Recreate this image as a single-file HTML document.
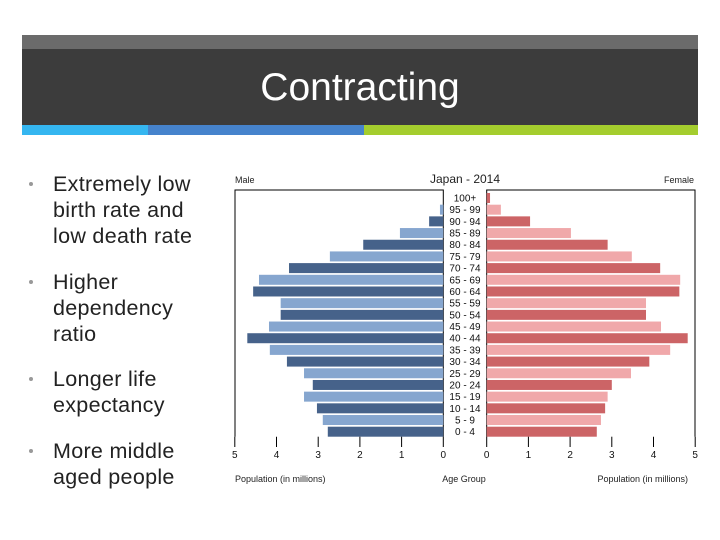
<!DOCTYPE html>
<html><head><meta charset="utf-8"><style>
body{margin:0;width:720px;height:540px;background:#fff;position:relative;overflow:hidden;font-family:"Liberation Sans",sans-serif}
.abs{position:absolute}
.b{position:absolute;left:53px;font-size:21.5px;line-height:26px;color:#222;letter-spacing:0.3px}
.dot{position:absolute;left:29px;width:4px;height:4px;border-radius:2px;background:#999}
</style></head><body>
<div class="abs" style="left:22px;top:35px;width:676px;height:14px;background:#6b6b6b"></div>
<div class="abs" style="left:22px;top:49px;width:676px;height:76px;background:#3c3c3c"></div>
<div class="abs" style="left:22px;top:64px;width:676px;text-align:center;color:#fff;font-size:39px;line-height:48px">Contracting</div>
<div class="abs" style="left:22px;top:125px;width:126px;height:10px;background:#35b6f0"></div>
<div class="abs" style="left:148px;top:125px;width:216px;height:10px;background:#4683cc"></div>
<div class="abs" style="left:364px;top:125px;width:334px;height:10px;background:#a4cd2e"></div>

<div class="dot" style="top:182px"></div>
<div class="b" style="top:171px">Extremely low<br>birth rate and<br>low death rate</div>
<div class="dot" style="top:280px"></div>
<div class="b" style="top:269px">Higher<br>dependency<br>ratio</div>
<div class="dot" style="top:377px"></div>
<div class="b" style="top:366px">Longer life<br>expectancy</div>
<div class="dot" style="top:449px"></div>
<div class="b" style="top:438px">More middle<br>aged people</div>

<svg id="chart" class="abs" style="left:0;top:0" width="720" height="540"></svg>
<script>
const ageGroups=["100+","95 - 99","90 - 94","85 - 89","80 - 84","75 - 79","70 - 74","65 - 69","60 - 64","55 - 59","50 - 54","45 - 49","40 - 44","35 - 39","30 - 34","25 - 29","20 - 24","15 - 19","10 - 14","5 - 9","0 - 4"];
const maleValues=[0,0.08,0.34,1.04,1.92,2.72,3.70,4.42,4.56,3.90,3.90,4.18,4.70,4.16,3.75,3.34,3.13,3.34,3.03,2.89,2.77];
const femaleValues=[0.08,0.34,1.04,2.02,2.90,3.48,4.16,4.64,4.62,3.82,3.82,4.18,4.82,4.40,3.90,3.46,3.00,2.90,2.84,2.74,2.64];
const tickValues=[0,1,2,3,4,5];
const tickLabels=["0","1","2","3","4","5"];
const NS="http://www.w3.org/2000/svg";
const svg=document.getElementById('chart');
const PX=41.7;
function xMale(v){return 443.3-PX*v;}
function xFemale(v){return 486.7+PX*v;}
function yRow(i){return 198+(431.7-198)/(ageGroups.length-1)*i;}
function mk(tag,attrs,parent){const e=document.createElementNS(NS,tag);for(const k in attrs)e.setAttribute(k,attrs[k]);(parent||svg).appendChild(e);return e;}
function txt(x,y,s,size,anchor,fill){const t=mk('text',{x:x,y:y,'font-size':size,'text-anchor':anchor,fill:fill||'#222','font-family':'Liberation Sans, DejaVu Sans, sans-serif'});t.textContent=s;return t;}
let f=mk('path',{d:`M235,436.7 V190 H443.3 V436.7`,fill:'none',stroke:'#000','stroke-width':1});


f=mk('path',{d:`M486.7,436.7 V190 H695 V436.7`,fill:'none',stroke:'#000','stroke-width':1});


ageGroups.forEach((g,i)=>{
  const y=yRow(i);
  const mv=maleValues[i], fv=femaleValues[i];
  const mb=mk('rect',{x:xMale(mv),y:y-5,width:xMale(0)-xMale(mv),height:10,fill:i%2?'#86a6cf':'#46628a'});
  
  
  const fb=mk('rect',{x:xFemale(0),y:y-5,width:xFemale(fv)-xFemale(0),height:10,fill:i%2?'#f0a8aa':'#cc6466'});
  
  
  const l=txt(465,y+3.5,g,10,'middle','#111');
  
  
});
tickValues.forEach((v,i)=>{
  [xMale(v),xFemale(v)].forEach((x,side)=>{
    const t=mk('line',{x1:x,x2:x,y1:436.7,y2:447,stroke:'#000','stroke-width':1});
    
    
    const lb=txt(x,458,tickLabels[i],10,'middle','#111');
    
    
  });
});
let e=txt(465,183,'Japan - 2014',12,'middle','#222');


e=txt(235,183,'Male',9,'start','#222');


e=txt(694,183,'Female',9,'end','#222');


e=txt(235,482,'Population (in millions)',9,'start','#222');


e=txt(464,482,'Age Group',9,'middle','#222');


e=txt(688,482,'Population (in millions)',9,'end','#222');


</script>
</body></html>
